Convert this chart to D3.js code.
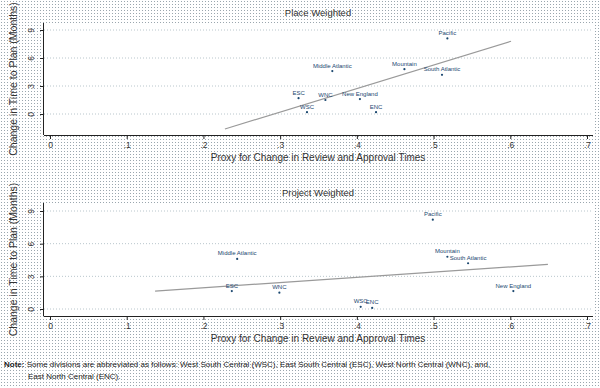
<!DOCTYPE html>
<html><head><meta charset="utf-8">
<script src="https://cdn.jsdelivr.net/npm/d3@7"></script>
<style>body{margin:0;}svg{display:block;}</style>
</head><body>
<svg id="c" width="600" height="388"></svg>
<script>
// ---- data ----
const xTicks = [0, 0.1, 0.2, 0.3, 0.4, 0.5, 0.6, 0.7];
const xTickLabels = ["0", ".1", ".2", ".3", ".4", ".5", ".6", ".7"];
const yTicks = [0, 3, 6, 9];

const placeNames = ["Pacific", "Middle Atlantic", "Mountain", "South Atlantic", "New England", "ENC", "ESC", "WNC", "WSC"];
const placeX = [0.518, 0.368, 0.462, 0.511, 0.404, 0.425, 0.324, 0.359, 0.335];
const placeY = [8.1, 4.6, 4.8, 4.2, 1.6, 0.2, 1.7, 1.5, 0.2];
const placeFit = {intercept: -7.35, slope: 25.2, xmin: 0.228, xmax: 0.601};

const projNames = ["Pacific", "Mountain", "South Atlantic", "New England", "WSC", "ENC", "WNC", "ESC", "Middle Atlantic"];
const projX = [0.499, 0.518, 0.545, 0.604, 0.405, 0.42, 0.299, 0.237, 0.244];
const projY = [8.2, 4.8, 4.2, 1.65, 0.2, 0.1, 1.5, 1.65, 4.6];
const projFit = {intercept: 0.99, slope: 4.79, xmin: 0.137, xmax: 0.649};

const titles = ["Place Weighted", "Project Weighted"];
const xTitle = "Proxy for Change in Review and Approval Times";
const yTitle = "Change in Time to Plan (Months)";

// ---- drawing ----
const svg = d3.select("#c");
const defs = svg.append("defs");
const pat = defs.append("pattern").attr("id","dots").attr("width",3).attr("height",3).attr("patternUnits","userSpaceOnUse");
pat.append("rect").attr("width",3).attr("height",3).attr("fill","#fff");
pat.append("rect").attr("x",1).attr("y",1).attr("width",1).attr("height",1).attr("fill","#9aa6ae");
svg.append("rect").attr("width",600).attr("height",388).attr("fill","url(#dots)");

const navy = "#1a476f";
const font = "Liberation Sans, Arial, sans-serif";

function panel(cfg) {
  const {top, bottom, y0px, y9px, names, xs, ys, fit, title} = cfg;
  const left = 44, right = 593;
  const x = d3.scaleLinear().domain([0, 0.7]).range([50, 587]);
  const pxPerUnit = (y0px - y9px) / 9;
  const y = d3.scaleLinear().domain([(y0px - bottom) / pxPerUnit, (y0px - top) / pxPerUnit]).range([bottom, top]);
  const g = svg.append("g");
  g.append("rect").attr("x", left).attr("y", top).attr("width", right - left).attr("height", bottom - top).attr("fill", "#fff");
  // grid
  g.selectAll(".grid").data(yTicks).enter().append("line")
    .attr("x1", left).attr("x2", right).attr("y1", d => y(d)).attr("y2", d => y(d))
    .attr("stroke", "#b9c6cc").attr("stroke-width", 1).attr("stroke-dasharray", "1,2");
  // axes
  const xa = g.append("g").attr("transform", `translate(0,${bottom})`)
    .call(d3.axisBottom(x).tickValues(xTicks).tickFormat((d, i) => xTickLabels[i]).tickSize(4).tickPadding(3));
  xa.select(".domain").attr("d", `M${left},0.5H${right}`).attr("stroke", "#222");
  xa.selectAll("text").attr("font-family", font).attr("font-size", "8.5px").attr("fill", "#333");
  xa.selectAll(".tick line").attr("stroke", "#222");
  const ya = g.append("g").attr("transform", `translate(${left},0)`)
    .call(d3.axisLeft(y).tickValues(yTicks).tickSize(4).tickPadding(3));
  ya.select(".domain").attr("d", `M-0.5,${top}V${bottom}`).attr("stroke", "#222");
  ya.selectAll(".tick line").attr("stroke", "#222");
  ya.selectAll("text").attr("font-family", font).attr("font-size", "8.5px").attr("fill", "#333")
    .attr("x", 0).attr("y", -10).attr("dy", 0).attr("text-anchor", "middle")
    .attr("transform", "rotate(-90)");
  // fit line
  g.append("line")
    .attr("x1", x(fit.xmin)).attr("y1", y(fit.intercept + fit.slope * fit.xmin))
    .attr("x2", x(fit.xmax)).attr("y2", y(fit.intercept + fit.slope * fit.xmax))
    .attr("stroke", "#9a9a9a").attr("stroke-width", 1.2);
  // points
  const pts = names.map((n, i) => ({n, x: xs[i], y: ys[i]}));
  g.selectAll(".pt").data(pts).enter().append("circle")
    .attr("cx", d => x(d.x)).attr("cy", d => y(d.y)).attr("r", 1.1).attr("fill", navy);
  g.selectAll(".lb").data(pts).enter().append("text")
    .attr("x", d => x(d.x)).attr("y", d => y(d.y) - 3.5)
    .attr("text-anchor", "middle").attr("font-family", font).attr("font-size", "6px")
    .attr("fill", navy).text(d => d.n);
  // titles
  g.append("text").attr("x", 318).attr("y", top - 7).attr("text-anchor", "middle")
    .attr("font-family", font).attr("font-size", "9.5px").attr("fill", "#333").text(title);
  g.append("text").attr("x", 318).attr("y", bottom + 26).attr("text-anchor", "middle")
    .attr("font-family", font).attr("font-size", "10px").attr("fill", "#333").text(xTitle);
  g.append("text").attr("transform", `translate(17,${(top + bottom) / 2}) rotate(-90)`).attr("text-anchor", "middle")
    .attr("font-family", font).attr("font-size", "10.5px").attr("fill", "#333").text(yTitle);
}

panel({top: 23, bottom: 135, y0px: 114, y9px: 30, names: placeNames, xs: placeX, ys: placeY, fit: placeFit, title: titles[0]});
panel({top: 203, bottom: 316, y0px: 309, y9px: 211, names: projNames, xs: projX, ys: projY, fit: projFit, title: titles[1]});

const note = svg.append("g").attr("font-family", font).attr("font-size", "8px").attr("fill", "#222");
const t1 = note.append("text").attr("x", 4).attr("y", 367);
t1.append("tspan").attr("font-weight", "bold").text("Note:");
t1.append("tspan").text(" Some divisions are abbreviated as follows:  West South Central (WSC), East South Central (ESC), West North Central (WNC), and,");
note.append("text").attr("x", 28).attr("y", 379).text("East North Central (ENC).");
</script>
</body></html>
